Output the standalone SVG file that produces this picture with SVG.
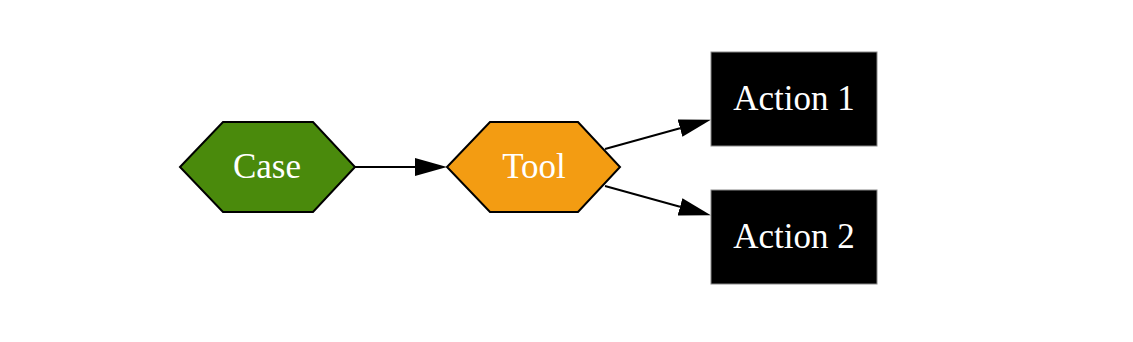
<svg xmlns="http://www.w3.org/2000/svg" width="1133" height="342" viewBox="0 0 1133 342">
<style>
.lbl{font-family:"Liberation Serif","Times New Roman",serif;font-size:35px;fill:#ffffff;text-anchor:middle}
.hex{stroke:#000;stroke-width:2}
.box{fill:#000;stroke:#888;stroke-width:1}
.edge{stroke:#000;stroke-width:2;fill:none}
</style>
<defs>
<marker id="arr" viewBox="0 0 32 18" refX="0" refY="9" markerWidth="32" markerHeight="18" markerUnits="userSpaceOnUse" orient="auto">
<path d="M0,0 L32,9 L0,18 Z" fill="#000"/>
</marker>
</defs>
<rect width="1133" height="342" fill="#fff"/>
<g id="connectors">
<line class="edge" x1="355" y1="167" x2="415" y2="167" marker-end="url(#arr)"/>
<line class="edge" x1="605" y1="149" x2="680" y2="128.2" marker-end="url(#arr)"/>
<line class="edge" x1="605" y1="186" x2="680" y2="206.8" marker-end="url(#arr)"/>
</g>
<g id="case">
<polygon class="hex" fill="#4a8a0c" points="180,167 223,122 313,122 355,167 313,212 223,212"/>
<text class="lbl" x="267" y="178">Case</text>
</g>
<g id="tool">
<polygon class="hex" fill="#f39c12" points="447,167 490,122 578,122 620,167 578,212 490,212"/>
<text class="lbl" x="534" y="178">Tool</text>
</g>
<g id="action1">
<rect class="box" x="711" y="52" width="166" height="94"/>
<text class="lbl" x="794" y="110">Action 1</text>
</g>
<g id="action2">
<rect class="box" x="711" y="190" width="166" height="94"/>
<text class="lbl" x="794" y="248">Action 2</text>
</g>
</svg>
